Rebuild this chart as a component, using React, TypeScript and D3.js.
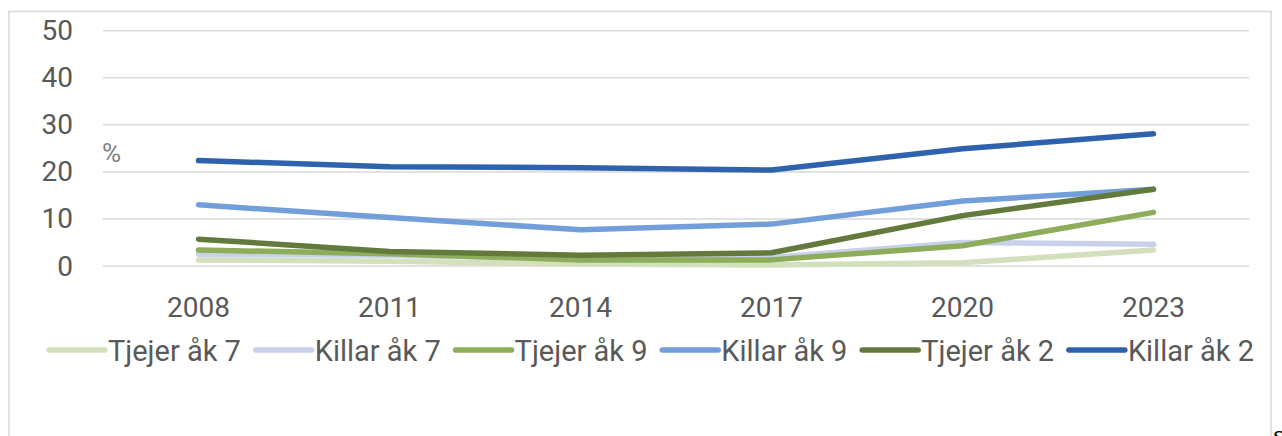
import React, { useEffect, useRef } from "react";
import * as d3 from "d3";

const years = ["2008", "2011", "2014", "2017", "2020", "2023"];
const yTicks = [0, 10, 20, 30, 40, 50];
const seriesNames = ["Tjejer åk 7", "Killar åk 7", "Tjejer åk 9", "Killar åk 9", "Tjejer åk 2", "Killar åk 2"];
const tjejerAk7 = [1.3, 1.0, 0.4, 0.2, 0.7, 3.4];
const killarAk7 = [2.5, 2.3, 1.5, 1.8, 5.0, 4.6];
const tjejerAk9 = [3.4, 2.6, 1.3, 1.3, 4.3, 11.4];
const killarAk9 = [13.0, 10.3, 7.7, 8.9, 13.8, 16.3];
const tjejerAk2 = [5.7, 3.1, 2.3, 2.8, 10.7, 16.3];
const killarAk2 = [22.4, 21.1, 20.9, 20.4, 24.9, 28.1];
const seriesValues = [tjejerAk7, killarAk7, tjejerAk9, killarAk9, tjejerAk2, killarAk2];
const colors = ["#D4DFBC", "#C8D1EA", "#8EAD5A", "#729ED9", "#627A3B", "#2F62AD"];

const FONT = "Roboto, 'Noto Sans', sans-serif";

export default function App() {
  const ref = useRef<SVGSVGElement | null>(null);

  useEffect(() => {
    const svg = d3.select(ref.current);
    svg.selectAll("*").remove();

    // frame
    svg.append("rect")
      .attr("x", 9).attr("y", 11.5).attr("width", 1262).attr("height", 460)
      .attr("fill", "#fff").attr("stroke", "#d9d9d9").attr("stroke-width", 1.5);

    const x = d3.scalePoint<string>().domain(years).range([103, 1249]).padding(0.5);
    const y = d3.scaleLinear().domain([0, 50]).range([266, 30.7]);

    const g = svg.append("g");
    g.selectAll("line.grid").data(yTicks).join("line")
      .attr("x1", 103).attr("x2", 1249)
      .attr("y1", (d) => y(d)).attr("y2", (d) => y(d))
      .attr("stroke", "#d9d9d9").attr("stroke-width", 1.5);

    g.selectAll("text.yt").data(yTicks).join("text")
      .attr("x", 73).attr("y", (d) => y(d))
      .attr("text-anchor", "end").attr("dominant-baseline", "central")
      .attr("font-family", FONT).attr("font-size", 28).attr("fill", "#595959")
      .text((d) => String(d));

    g.selectAll("text.xt").data(years).join("text")
      .attr("x", (d) => x(d)!).attr("y", 316.5)
      .attr("text-anchor", "middle")
      .attr("font-family", FONT).attr("font-size", 28).attr("fill", "#595959")
      .text((d) => d);

    g.append("text").attr("x", 102).attr("y", 162)
      .attr("font-family", FONT).attr("font-size", 26).attr("fill", "#7f7f7f")
      .text("%");

    const line = d3.line<number>().x((_, i) => x(years[i])!).y((d) => y(d));
    seriesValues.forEach((vals, i) => {
      g.append("path").attr("d", line(vals)!)
        .attr("fill", "none").attr("stroke", colors[i]).attr("stroke-width", 5.5)
        .attr("stroke-linecap", "round").attr("stroke-linejoin", "round");
    });

    // legend
    const lg = svg.append("g");
    const texts = seriesNames.map((n) =>
      lg.append("text").attr("y", 361).attr("font-family", FONT).attr("font-size", 29)
        .attr("fill", "#595959").text(n)
    );
    const widths = texts.map((t) => (t.node() as SVGTextElement).getComputedTextLength());
    const lineLen = 56, pad = 3;
    const start = 49, end = 1254;
    const total = widths.reduce((a, b) => a + b, 0) + seriesNames.length * (lineLen + pad);
    const gap = (end - start - total) / (seriesNames.length - 1);
    let cx = start;
    seriesNames.forEach((_, i) => {
      lg.append("line").attr("x1", cx).attr("x2", cx + lineLen).attr("y1", 350).attr("y2", 350)
        .attr("stroke", colors[i]).attr("stroke-width", 5.5).attr("stroke-linecap", "round");
      texts[i].attr("x", cx + lineLen + pad);
      cx += lineLen + pad + widths[i] + gap;
    });

    svg.append("text").attr("x", 1273).attr("y", 444)
      .attr("font-family", "'DejaVu Serif', serif").attr("font-size", 24).attr("fill", "#000")
      .text("s");
  }, []);

  return (
    <svg ref={ref} width={1282} height={436}
      style={{ position: "absolute", left: 0, top: 0, background: "#fff" }} />
  );
}
